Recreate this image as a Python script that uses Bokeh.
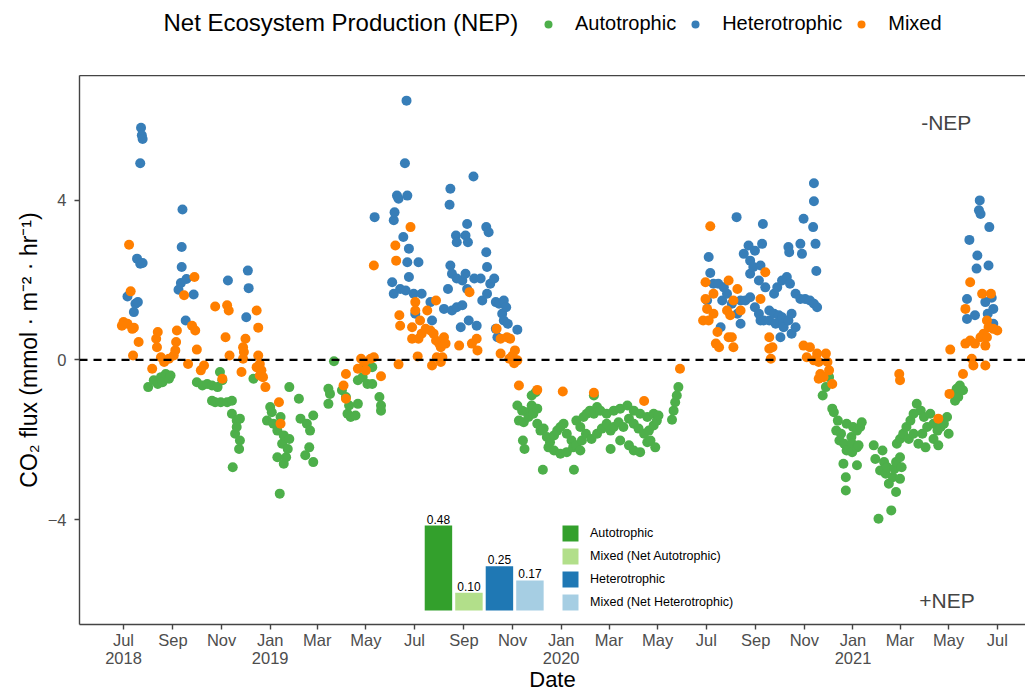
import pandas as pd
from bokeh.plotting import figure
from bokeh.layouts import column
from bokeh.models import (ColumnDataSource, Range1d, FixedTicker, Span, Label,
                          Legend, LegendItem, LinearAxis)
from bokeh.core.properties import value
from bokeh.embed import file_html
from bokeh.resources import INLINE

# ---------------------------------------------------------------------------
# Daily CO2 flux (mmol m-2 hr-1), split by net ecosystem production class
# ---------------------------------------------------------------------------
auto_dates = [
    "2018-08-01", "2018-08-08", "2018-08-13", "2018-08-17", "2018-08-19", "2018-08-23",
    "2018-08-27", "2018-08-29", "2018-10-01", "2018-10-08", "2018-10-14", "2018-10-20",
    "2018-10-20", "2018-10-24", "2018-10-27", "2018-10-30", "2018-10-31", "2018-11-02",
    "2018-11-08", "2018-11-14", "2018-11-14", "2018-11-15", "2018-11-18", "2018-11-20",
    "2018-11-20", "2018-11-23", "2018-11-24", "2018-11-24", "2018-12-11", "2018-12-28",
    "2019-01-01", "2019-01-03", "2019-01-05", "2019-01-10", "2019-01-10", "2019-01-13",
    "2019-01-14", "2019-01-16", "2019-01-18", "2019-01-18", "2019-01-21", "2019-01-23",
    "2019-01-25", "2019-01-25", "2019-02-06", "2019-02-08", "2019-02-14", "2019-02-16",
    "2019-02-19", "2019-02-20", "2019-02-24", "2019-02-24", "2019-03-15", "2019-03-15",
    "2019-03-17", "2019-03-22", "2019-04-01", "2019-04-06", "2019-04-08", "2019-04-10",
    "2019-04-12", "2019-04-18", "2019-04-21", "2019-04-21", "2019-04-27", "2019-04-29",
    "2019-05-03", "2019-05-09", "2019-05-09", "2019-05-18", "2019-05-20", "2019-05-20",
    "2019-11-07", "2019-11-09", "2019-11-13", "2019-11-14", "2019-11-15", "2019-11-16",
    "2019-11-19", "2019-11-21", "2019-11-25", "2019-11-25", "2019-11-27", "2019-11-30",
    "2019-12-02", "2019-12-02", "2019-12-06", "2019-12-09", "2019-12-10", "2019-12-14",
    "2019-12-16", "2019-12-18", "2019-12-23", "2019-12-23", "2019-12-27", "2019-12-31",
    "2019-12-31", "2020-01-04", "2020-01-08", "2020-01-08", "2020-01-14", "2020-01-16",
    "2020-01-17", "2020-01-20", "2020-01-20", "2020-01-25", "2020-01-25", "2020-01-27",
    "2020-01-29", "2020-02-01", "2020-02-02", "2020-02-06", "2020-02-08", "2020-02-11",
    "2020-02-11", "2020-02-15", "2020-02-15", "2020-02-19", "2020-02-21", "2020-02-27",
    "2020-02-27", "2020-03-03", "2020-03-03", "2020-03-07", "2020-03-07", "2020-03-13",
    "2020-03-15", "2020-03-15", "2020-03-19", "2020-03-24", "2020-03-26", "2020-03-26",
    "2020-04-01", "2020-04-01", "2020-04-01", "2020-04-07", "2020-04-09", "2020-04-09",
    "2020-04-14", "2020-04-18", "2020-04-18", "2020-04-20", "2020-04-22", "2020-04-26",
    "2020-04-26", "2020-04-28", "2020-04-30", "2020-05-02", "2020-05-19", "2020-05-21",
    "2020-05-23", "2020-05-25", "2020-05-27", "2020-11-24", "2020-11-28", "2020-12-02",
    "2020-12-06", "2020-12-08", "2020-12-11", "2020-12-13", "2020-12-15", "2020-12-17",
    "2020-12-20", "2020-12-21", "2020-12-23", "2020-12-23", "2020-12-24", "2020-12-24",
    "2020-12-30", "2020-12-31", "2020-12-31", "2021-01-01", "2021-01-06", "2021-01-06",
    "2021-01-06", "2021-01-08", "2021-01-10", "2021-01-12", "2021-01-27", "2021-01-29",
    "2021-02-02", "2021-02-04", "2021-02-07", "2021-02-09", "2021-02-11", "2021-02-13",
    "2021-02-15", "2021-02-18", "2021-02-20", "2021-02-22", "2021-02-24", "2021-02-24",
    "2021-02-25", "2021-03-01", "2021-03-01", "2021-03-01", "2021-03-03", "2021-03-05",
    "2021-03-09", "2021-03-12", "2021-03-14", "2021-03-18", "2021-03-18", "2021-03-22",
    "2021-03-24", "2021-03-27", "2021-03-29", "2021-03-31", "2021-04-02", "2021-04-04",
    "2021-04-08", "2021-04-12", "2021-04-12", "2021-04-17", "2021-04-18", "2021-04-21",
    "2021-04-25", "2021-04-29", "2021-05-01", "2021-05-07", "2021-05-09", "2021-05-11",
    "2021-05-13", "2021-05-15", "2021-05-19",
]
auto_flux = [
    -0.68, -0.51, -0.60, -0.43, -0.56, -0.35,
    -0.47, -0.39, -0.56, -0.64, -0.60, -0.64,
    -1.02, -1.06, -0.68, -0.30, -1.06, -0.51,
    -1.06, -1.02, -1.35, -2.69, -1.85, -1.52,
    -1.68, -2.23, -1.47, -2.02, -0.47, -1.52,
    -1.18, -1.31, -1.60, -1.77, -2.44, -3.35,
    -1.43, -2.10, -1.89, -2.60, -2.44, -2.23,
    -1.98, -0.68, -0.97, -1.47, -2.39, -1.60,
    -2.19, -1.77, -1.39, -2.56, -0.72, -1.10,
    -0.85, -0.03, -0.76, -0.93, -1.35, -1.14,
    -1.43, -1.39, -1.10, -0.51, -0.43, -0.14,
    -0.60, -0.60, -0.18, -0.93, -1.14, -1.27,
    -1.14, -1.52, -1.27, -2.02, -1.56, -2.23,
    -1.31, -1.43, -1.14, -0.89, -1.35, -0.81,
    -1.22, -1.60, -1.77, -2.75, -1.72, -1.93,
    -2.19, -2.06, -1.89, -2.27, -1.77, -1.68,
    -2.35, -1.60, -1.85, -2.31, -2.02, -2.19,
    -2.75, -2.14, -1.52, -1.68, -2.27, -2.02,
    -1.43, -1.85, -1.35, -1.27, -1.98, -0.89,
    -1.35, -1.85, -1.18, -1.27, -1.72, -1.60,
    -1.35, -1.77, -2.23, -1.68, -1.27, -1.56,
    -1.22, -2.02, -1.68, -1.14, -1.47, -2.14,
    -1.60, -1.27, -2.27, -1.72, -1.35, -2.31,
    -1.85, -1.43, -2.06, -1.77, -2.02, -1.64,
    -1.35, -2.19, -1.52, -1.39, -1.50, -1.27,
    -1.06, -0.89, -0.68, -0.89, -0.68, -0.43,
    -1.22, -1.31, -1.77, -1.52, -2.02, -1.85,
    -2.60, -2.10, -2.94, -3.27, -1.60, -2.27,
    -1.93, -2.10, -2.31, -1.68, -1.77, -2.19,
    -2.64, -2.14, -1.68, -1.56, -2.14, -2.48,
    -3.98, -2.77, -2.27, -2.56, -2.85, -2.69,
    -3.10, -3.77, -2.94, -2.73, -2.56, -3.31,
    -2.10, -2.98, -2.44, -1.98, -2.69, -1.85,
    -1.68, -1.98, -1.52, -1.35, -1.85, -1.10,
    -2.10, -1.27, -1.85, -1.43, -2.19, -1.68,
    -1.35, -1.60, -1.98, -1.77, -2.14, -1.68,
    -1.60, -1.43, -1.85, -0.85, -1.02, -0.72,
    -0.93, -0.64, -0.76,
]

hetero_dates = [
    "2018-07-06", "2018-07-14", "2018-07-16", "2018-07-18", "2018-07-19", "2018-07-22",
    "2018-07-22", "2018-07-23", "2018-07-24", "2018-07-25", "2018-07-25", "2018-09-08",
    "2018-09-11", "2018-09-12", "2018-09-12", "2018-09-13", "2018-09-17", "2018-09-18",
    "2018-09-27", "2018-11-09", "2018-12-02", "2018-12-04", "2018-12-05", "2019-05-12",
    "2019-06-03", "2019-06-05", "2019-06-05", "2019-06-06", "2019-06-09", "2019-06-11",
    "2019-06-13", "2019-06-17", "2019-06-19", "2019-06-20", "2019-06-21", "2019-06-22",
    "2019-06-22", "2019-06-24", "2019-06-24", "2019-06-30", "2019-07-02", "2019-07-06",
    "2019-07-10", "2019-07-21", "2019-07-23", "2019-08-07", "2019-08-12", "2019-08-14",
    "2019-08-15", "2019-08-15", "2019-08-17", "2019-08-17", "2019-08-22", "2019-08-23",
    "2019-08-23", "2019-08-23", "2019-08-28", "2019-08-30", "2019-08-30", "2019-09-03",
    "2019-09-03", "2019-09-05", "2019-09-05", "2019-09-06", "2019-09-07", "2019-09-13",
    "2019-09-14", "2019-09-17", "2019-09-22", "2019-09-24", "2019-09-29", "2019-09-29",
    "2019-09-30", "2019-09-30", "2019-10-02", "2019-10-04", "2019-10-09", "2019-10-11",
    "2019-10-11", "2019-10-13", "2019-10-15", "2019-10-19", "2019-10-21", "2019-10-21",
    "2019-10-24", "2019-10-26", "2019-11-07", "2020-07-02", "2020-07-04", "2020-07-06",
    "2020-07-10", "2020-07-16", "2020-07-19", "2020-07-21", "2020-07-23", "2020-07-27",
    "2020-08-02", "2020-08-08", "2020-08-09", "2020-08-13", "2020-08-13", "2020-08-17",
    "2020-08-19", "2020-08-23", "2020-08-25", "2020-08-25", "2020-08-25", "2020-08-29",
    "2020-08-31", "2020-08-31", "2020-09-05", "2020-09-05", "2020-09-07", "2020-09-07",
    "2020-09-09", "2020-09-10", "2020-09-11", "2020-09-13", "2020-09-18", "2020-09-18",
    "2020-09-24", "2020-09-24", "2020-09-26", "2020-09-28", "2020-09-30", "2020-10-02",
    "2020-10-04", "2020-10-04", "2020-10-06", "2020-10-06", "2020-10-10", "2020-10-12",
    "2020-10-12", "2020-10-13", "2020-10-14", "2020-10-16", "2020-10-16", "2020-10-21",
    "2020-10-21", "2020-10-27", "2020-10-27", "2020-10-29", "2020-10-31", "2020-11-02",
    "2020-11-08", "2020-11-12", "2020-11-13", "2020-11-13", "2020-11-13", "2020-11-15",
    "2020-11-16", "2020-11-17", "2021-05-24", "2021-05-24", "2021-05-27", "2021-06-03",
    "2021-06-05", "2021-06-06", "2021-06-08", "2021-06-09", "2021-06-10", "2021-06-16",
    "2021-06-19", "2021-06-20", "2021-06-21", "2021-06-24", "2021-06-26", "2021-06-26",
]
hetero_flux = [
    1.59, 1.20, 1.41, 2.54, 1.45, 2.41,
    4.93, 5.82, 5.63, 2.43, 5.54, 1.76,
    1.93, 2.83, 2.33, 3.77, 0.99, 2.03,
    1.64, 1.99, 1.07, 2.24, 1.80, 3.58,
    1.95, 3.50, 1.66, 3.70, 4.12, 4.04,
    1.78, 3.08, 4.93, 1.74, 6.50, 4.12,
    2.45, 2.79, 2.08, 1.66, 1.16, 2.45,
    1.66, 1.45, 0.99, 1.28, 1.78, 3.89,
    4.29, 2.37, 2.16, 1.24, 3.12, 2.95,
    2.04, 1.32, 0.82, 1.99, 1.37, 3.12,
    2.16, 3.41, 1.78, 2.95, 0.99, 4.60,
    2.04, 0.86, 2.04, 1.49, 3.33, 2.70,
    2.33, 1.66, 3.20, 1.91, 2.04, 1.45,
    0.78, 0.57, 1.41, 1.16, 1.49, 0.99,
    1.32, 0.91, 0.76, 1.49, 2.58, 2.18,
    1.91, 1.91, 0.82, 1.49, 1.82, 1.66,
    1.41, 3.58, 1.16, 1.49, 0.91, 2.66,
    1.49, 2.87, 2.49, 2.16, 1.57, 2.33,
    2.74, 1.32, 1.99, 1.16, 2.37, 0.99,
    2.91, 3.41, 0.99, 1.82, 1.24, 0.99,
    1.16, 1.66, 0.91, 1.82, 1.12, 0.57,
    1.07, 1.99, 0.91, 0.82, 2.08, 0.99,
    2.83, 2.70, 1.91, 1.16, 0.66, 1.66,
    0.82, 2.91, 1.53, 2.66, 3.54, 1.53,
    1.49, 3.33, 4.43, 3.98, 1.41, 2.91,
    2.23, 1.32, 1.53, 1.03, 3.01, 1.12,
    2.29, 2.62, 3.75, 4.00, 3.66, 1.45,
    1.16, 2.37, 3.33, 1.56, 1.28, 0.91,
]

mixed_dates = [
    "2018-06-29", "2018-07-01", "2018-07-06", "2018-07-08", "2018-07-10", "2018-07-12",
    "2018-07-13", "2018-07-14", "2018-07-20", "2018-08-06", "2018-08-11", "2018-08-12",
    "2018-08-13", "2018-08-17", "2018-08-21", "2018-08-27", "2018-09-02", "2018-09-04",
    "2018-09-05", "2018-09-06", "2018-09-15", "2018-09-20", "2018-09-25", "2018-09-28",
    "2018-09-29", "2018-10-01", "2018-10-06", "2018-10-10", "2018-10-24", "2018-11-02",
    "2018-11-06", "2018-11-08", "2018-11-10", "2018-11-11", "2018-11-26", "2018-11-28",
    "2018-11-28", "2018-11-29", "2018-12-01", "2018-12-15", "2018-12-15", "2018-12-17",
    "2018-12-17", "2018-12-19", "2018-12-19", "2018-12-21", "2018-12-23", "2018-12-26",
    "2019-01-12", "2019-01-14", "2019-04-03", "2019-04-06", "2019-04-06", "2019-04-21",
    "2019-04-25", "2019-04-29", "2019-05-01", "2019-05-07", "2019-05-11", "2019-05-11",
    "2019-05-20", "2019-06-07", "2019-06-08", "2019-06-11", "2019-06-12", "2019-06-13",
    "2019-06-26", "2019-06-28", "2019-06-28", "2019-07-02", "2019-07-02", "2019-07-05",
    "2019-07-06", "2019-07-08", "2019-07-10", "2019-07-15", "2019-07-17", "2019-07-21",
    "2019-07-23", "2019-07-25", "2019-07-28", "2019-07-28", "2019-07-29", "2019-08-01",
    "2019-08-03", "2019-08-03", "2019-08-05", "2019-08-07", "2019-08-09", "2019-08-26",
    "2019-09-08", "2019-09-11", "2019-09-17", "2019-09-18", "2019-10-12", "2019-10-17",
    "2019-10-17", "2019-10-25", "2019-10-28", "2019-10-29", "2019-11-01", "2019-11-03",
    "2019-11-04", "2019-11-07", "2019-11-09", "2019-12-02", "2020-01-03", "2020-02-11",
    "2020-04-14", "2020-05-29", "2020-06-27", "2020-06-30", "2020-06-30", "2020-07-02",
    "2020-07-04", "2020-07-06", "2020-07-10", "2020-07-10", "2020-07-13", "2020-07-15",
    "2020-07-17", "2020-07-27", "2020-07-29", "2020-07-29", "2020-07-31", "2020-08-02",
    "2020-08-04", "2020-08-04", "2020-08-09", "2020-08-13", "2020-09-07", "2020-09-13",
    "2020-09-18", "2020-09-18", "2020-09-20", "2020-09-22", "2020-10-31", "2020-11-04",
    "2020-11-08", "2020-11-13", "2020-11-17", "2020-11-19", "2020-11-19", "2020-11-21",
    "2020-11-25", "2020-11-28", "2020-11-30", "2020-12-02", "2020-12-06", "2021-02-28",
    "2021-03-01", "2021-04-18", "2021-05-02", "2021-05-03", "2021-05-19", "2021-05-22",
    "2021-05-22", "2021-05-28", "2021-05-28", "2021-05-30", "2021-06-01", "2021-06-03",
    "2021-06-10", "2021-06-12", "2021-06-14", "2021-06-16", "2021-06-16", "2021-06-18",
    "2021-06-18", "2021-06-20", "2021-06-23", "2021-06-26", "2021-07-01",
]
mixed_flux = [
    0.86, 0.95, 0.91, 2.89, 1.72, 0.78,
    0.11, 0.81, 0.45, -0.22, 0.53, 0.32,
    0.70, 0.07, -0.05, 0.03, 0.11, 0.24,
    0.45, 0.74, 1.62, -0.10, 0.86, 2.08,
    0.74, 0.26, -0.26, -0.14, 1.34, -0.47,
    0.57, 1.37, 1.24, 0.11, -0.30, 0.32,
    0.03, 0.20, 0.53, 1.24, -0.18, 0.81,
    0.11, -0.10, -0.39, -0.26, -0.43, -0.68,
    -1.06, -1.60, -0.64, -0.35, -0.97, -0.22,
    0.03, -0.05, -0.26, 0.03, 0.07, 2.37,
    -0.41, 2.87, 2.49, -0.11, 1.12, 0.86,
    3.33, 0.82, 0.53, 1.45, 1.24, 0.09,
    0.53, 0.99, 0.66, 0.78, 1.24, 0.74,
    -0.14, 0.66, 0.49, 1.49, 0.07, 0.41,
    0.32, -0.05, 0.07, 0.57, 0.41, 0.36,
    1.70, 0.41, 0.53, 0.24, 0.78, 0.53,
    0.16, 0.57, 0.03, 0.53, 0.11, -0.08,
    0.24, -0.01, -0.64, -0.75, -0.79, -0.82,
    -1.03, -0.22, 0.99, 1.95, 1.53, 1.28,
    0.99, 3.35, 1.66, 1.16, 0.41, 0.70,
    0.32, 1.24, 1.99, 0.57, 1.12, 0.57,
    1.49, 0.32, 1.78, 1.24, 1.53, 2.20,
    0.57, 0.28, 0.03, 0.32, 0.36, 0.07,
    0.32, -0.01, 0.16, -0.05, -0.47, -0.35,
    -0.43, 0.16, -0.05, -0.26, -0.60, -0.35,
    -0.51, -1.47, -0.85, 0.26, -0.35, 0.41,
    1.28, 0.49, 1.95, 0.03, -0.14, 0.41,
    0.57, 1.66, 0.66, 0.36, -0.14, 0.57,
    0.99, 0.82, 1.66, 0.78, 0.74,
]

nep_classes = ["Autotrophic", "Heterotrophic", "Mixed"]
nep_colors = ["#4DAF4A", "#377EB8", "#FF7F00"]

# Share of days in each class (inset bar chart)
share_classes = ["Autotrophic", "Mixed (Net Autotrophic)", "Heterotrophic",
                 "Mixed (Net Heterotrophic)"]
share_values = [0.48, 0.10, 0.25, 0.17]
share_colors = ["#33A02C", "#B2DF8A", "#1F78B4", "#A6CEE3"]

# Date axis ticks
tick_dates = ["2018-07-01", "2018-09-01", "2018-11-01", "2019-01-01", "2019-03-01",
              "2019-05-01", "2019-07-01", "2019-09-01", "2019-11-01", "2020-01-01",
              "2020-03-01", "2020-05-01", "2020-07-01", "2020-09-01", "2020-11-01",
              "2021-01-01", "2021-03-01", "2021-05-01", "2021-07-01"]
tick_labels = ["Jul\n2018", "Sep", "Nov", "Jan\n2019", "Mar", "May", "Jul", "Sep", "Nov",
               "Jan\n2020", "Mar", "May", "Jul", "Sep", "Nov", "Jan\n2021", "Mar", "May",
               "Jul"]
flux_ticks = [-4, 0, 4]

FONT = "Liberation Sans"
EPOCH = pd.Timestamp("1970-01-01")
BORDER = "#444444"


def to_ms(d):
    return (pd.Timestamp(d) - EPOCH) // pd.Timedelta(milliseconds=1)


# ---------------------------------------------------------------------------
# Header strip with the class legend (x in page pixels, frame starts at 79)
# ---------------------------------------------------------------------------
head = figure(width=1025, height=75, x_range=Range1d(79, 1025), y_range=Range1d(0, 75),
              output_backend="svg", toolbar_location=None, min_border=0,
              x_axis_location=None, y_axis_location=None, outline_line_color=None)
head.grid.visible = False
# key glyphs sit below the strip so only their legend swatches are seen
key_renderers = [head.scatter(x=[500], y=[-40], size=10, fill_color=c, line_color=None)
                 for c in nep_colors]
head.add_layout(Label(x=163, y=53, text="Net Ecosystem Production (NEP)", text_font=FONT,
                      text_font_size="24px", text_align="left", text_baseline="middle",
                      text_color="black"))
head.add_layout(Legend(
    items=[LegendItem(label=c, renderers=[r]) for c, r in zip(nep_classes, key_renderers)],
    orientation="horizontal", location=(459, 40),
    padding=0, margin=0, spacing=9, glyph_width=20, glyph_height=20,
    label_standoff=17, label_text_font=FONT, label_text_font_size="20px",
    label_text_color="black", border_line_color=None, background_fill_alpha=0,
))

# ---------------------------------------------------------------------------
# Main flux panel
# ---------------------------------------------------------------------------
p = figure(
    width=1025, height=619,
    x_axis_type="datetime",
    x_range=Range1d(to_ms("2018-05-06 19:40"), to_ms("2021-08-05 09:00")),
    y_range=Range1d(-6.63, 7.13),
    output_backend="svg", toolbar_location=None,
    min_border_left=79, min_border_right=0, min_border_top=0, min_border_bottom=70,
)
p.xgrid.visible = False
p.ygrid.visible = False
p.outline_line_color = None
p.background_fill_color = "white"
p.border_fill_color = "white"

xax = p.below[0]
yax = p.left[0]
for ax in (xax, yax):
    ax.axis_line_color = BORDER
    ax.axis_line_width = 1.4
    ax.major_tick_line_color = BORDER
    ax.major_tick_line_width = 1.4
    ax.major_tick_out = 5
    ax.major_tick_in = 0
    ax.minor_tick_out = 0
    ax.minor_tick_in = 0
    ax.major_label_text_font = FONT
    ax.major_label_text_font_size = "16.5px"
    ax.major_label_text_color = "#4D4D4D"
    ax.axis_label_text_font = FONT
    ax.axis_label_text_font_style = "normal"
    ax.axis_label_text_color = "black"
    ax.axis_label_text_font_size = "22px"

tick_ms = [to_ms(d) for d in tick_dates]
xax.ticker = FixedTicker(ticks=tick_ms, minor_ticks=[])
xax.major_label_overrides = {t: lab for t, lab in zip(tick_ms, tick_labels)}
xax.major_label_text_line_height = 1.0
xax.major_label_standoff = 1
xax.axis_label = "Date"
xax.axis_label_standoff = -3

yax.ticker = FixedTicker(ticks=flux_ticks, minor_ticks=[])
yax.major_label_standoff = 8
yax.axis_label = "CO\u2082 flux (mmol \u00b7 m\u207b\u00b2 \u00b7 hr\u207b\u00b9)"
yax.axis_label_text_font_size = "23px"
yax.axis_label_standoff = 3

# top edge of the panel box (the panel runs on past the right edge)
top_edge = LinearAxis(ticker=FixedTicker(ticks=[]), major_tick_out=0, major_tick_in=0,
                      minor_tick_out=0, minor_tick_in=0, major_label_standoff=0,
                      major_label_text_font_size="0px", axis_line_color=BORDER,
                      axis_line_width=1.4)
p.add_layout(top_edge, "above")

# zero reference line
p.add_layout(Span(location=0, dimension="width", line_color="black",
                  line_width=2.2, line_dash="8 6"))

# scatter points, one renderer per NEP class
series = [(auto_dates, auto_flux), (hetero_dates, hetero_flux), (mixed_dates, mixed_flux)]
for (dates, flux), color in zip(series, nep_colors):
    src = ColumnDataSource(dict(date=pd.to_datetime(dates), flux=flux))
    p.scatter("date", "flux", source=src, size=10, fill_color=color, line_color=None)

# region annotations
p.add_layout(Label(x=to_ms("2021-04-28"), y=5.96, text="-NEP", text_font=FONT,
                   text_font_size="21px", text_align="center", text_baseline="middle"))
p.add_layout(Label(x=to_ms("2021-04-29"), y=-6.03, text="+NEP", text_font=FONT,
                   text_font_size="21px", text_align="center", text_baseline="middle"))

# inset bar chart on its own scales
p.extra_x_ranges = {"inset_x": Range1d(-11.77, 19.25)}
p.extra_y_ranges = {"inset_y": Range1d(-0.0791, 3.0226)}
bar_renderers = []
for i, (cls, v, col) in enumerate(zip(share_classes, share_values, share_colors)):
    src = ColumnDataSource(dict(x=[i], top=[v]))
    br = p.vbar(x="x", top="top", bottom=0, width=0.9, source=src, fill_color=col,
                line_color=None, x_range_name="inset_x", y_range_name="inset_y")
    bar_renderers.append(br)

lab_src = ColumnDataSource(dict(x=list(range(len(share_values))), y=share_values,
                                text=[f"{v:.2f}" for v in share_values]))
p.text(x="x", y="y", text="text", source=lab_src, x_range_name="inset_x",
       y_range_name="inset_y", text_align="center", text_baseline="bottom", y_offset=-2,
       text_font=value(FONT), text_font_size="12px", text_color="black")

p.add_layout(Legend(
    items=[LegendItem(label=c, renderers=[r]) for c, r in zip(share_classes, bar_renderers)],
    location=(481, 12), orientation="vertical",
    padding=0, margin=0, spacing=3, glyph_width=20, glyph_height=20, label_height=20,
    label_standoff=10, label_text_font=FONT, label_text_font_size="12.5px",
    label_text_color="black", border_line_color=None, background_fill_alpha=0,
))

layout = column(head, p, spacing=0)
open("out.html", "w").write(file_html(layout, INLINE))
